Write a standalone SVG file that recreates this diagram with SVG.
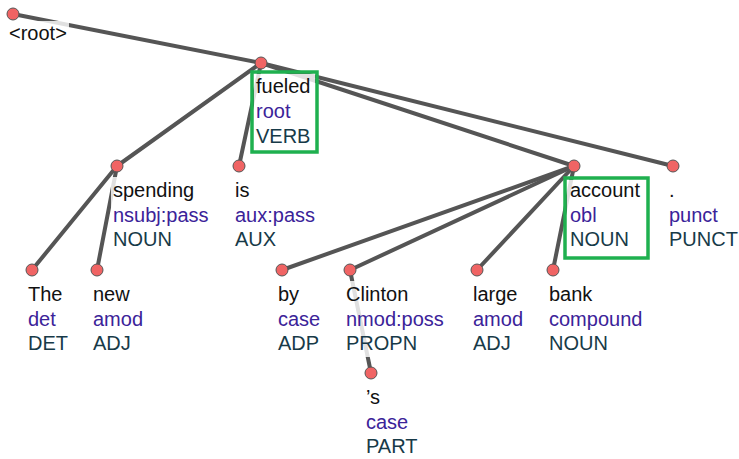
<svg xmlns="http://www.w3.org/2000/svg" width="739" height="459" viewBox="0 0 739 459">
<style>
text{font-family:"Liberation Sans",Arial,sans-serif;font-size:20px}
.w{fill:#111}
.d{fill:#3b2399}
.p{fill:#173a48}
.bg{fill:#fff;fill-opacity:0.82}
.n{fill:#f06464;stroke:#555;stroke-width:1}
.e{stroke:#555;stroke-width:4;stroke-linecap:round;fill:none}
.hl{fill:none;stroke:#1fb04f;stroke-width:3.5}
</style>
<rect width="739" height="459" fill="#fff"/>
<g id="edges">
<line class="e" x1="13" y1="14" x2="261" y2="63"/>
<line class="e" x1="261" y1="63" x2="117" y2="166"/>
<line class="e" x1="261" y1="63" x2="239" y2="166"/>
<line class="e" x1="261" y1="63" x2="574" y2="166"/>
<line class="e" x1="261" y1="63" x2="673" y2="166"/>
<line class="e" x1="117" y1="166" x2="32" y2="270"/>
<line class="e" x1="117" y1="166" x2="97" y2="270"/>
<line class="e" x1="574" y1="166" x2="282" y2="270"/>
<line class="e" x1="574" y1="166" x2="350" y2="270"/>
<line class="e" x1="574" y1="166" x2="477" y2="270"/>
<line class="e" x1="574" y1="166" x2="553" y2="270"/>
<line class="e" x1="350" y1="270" x2="371" y2="373"/>
</g>
<g id="node-root">
<rect class="bg" x="7" y="21" width="62" height="26"/>
<circle class="n" cx="13" cy="14" r="6"/>
<text class="w" x="9" y="40">&lt;root&gt;</text>
</g>
<g id="node-fueled">
<rect class="bg" x="254" y="74" width="61" height="76"/>
<circle class="n" cx="261" cy="63" r="6"/>
<text class="w" x="256" y="93">fueled</text>
<text class="d" x="256" y="118">root</text>
<text class="p" x="256" y="143">VERB</text>
<rect class="hl" x="252" y="72" width="65" height="80"/>
</g>
<g id="node-spending">
<rect class="bg" x="111" y="177" width="100" height="76"/>
<circle class="n" cx="117" cy="166" r="6"/>
<text class="w" x="113" y="197">spending</text>
<text class="d" x="113" y="222">nsubj:pass</text>
<text class="p" x="113" y="246">NOUN</text>
</g>
<g id="node-is">
<rect class="bg" x="233" y="177" width="84" height="76"/>
<circle class="n" cx="239" cy="166" r="6"/>
<text class="w" x="235" y="197">is</text>
<text class="d" x="235" y="222">aux:pass</text>
<text class="p" x="235" y="246">AUX</text>
</g>
<g id="node-account">
<rect class="bg" x="567" y="180" width="79" height="76"/>
<circle class="n" cx="574" cy="166" r="6"/>
<text class="w" x="570" y="197">account</text>
<text class="d" x="570" y="222">obl</text>
<text class="p" x="570" y="246">NOUN</text>
<rect class="hl" x="565" y="178" width="83" height="80"/>
</g>
<g id="node-punct">
<rect class="bg" x="667" y="177" width="72" height="76"/>
<circle class="n" cx="673" cy="166" r="6"/>
<text class="w" x="669" y="197">.</text>
<text class="d" x="669" y="222">punct</text>
<text class="p" x="669" y="246">PUNCT</text>
</g>
<g id="node-the">
<rect class="bg" x="26" y="281" width="48" height="76"/>
<circle class="n" cx="32" cy="270" r="6"/>
<text class="w" x="28" y="301">The</text>
<text class="d" x="28" y="326">det</text>
<text class="p" x="28" y="350">DET</text>
</g>
<g id="node-new">
<rect class="bg" x="91" y="281" width="56" height="76"/>
<circle class="n" cx="97" cy="270" r="6"/>
<text class="w" x="93" y="301">new</text>
<text class="d" x="93" y="326">amod</text>
<text class="p" x="93" y="350">ADJ</text>
</g>
<g id="node-by">
<rect class="bg" x="276" y="281" width="48" height="76"/>
<circle class="n" cx="282" cy="270" r="6"/>
<text class="w" x="278" y="301">by</text>
<text class="d" x="278" y="326">case</text>
<text class="p" x="278" y="350">ADP</text>
</g>
<g id="node-clinton">
<rect class="bg" x="344" y="281" width="102" height="76"/>
<circle class="n" cx="350" cy="270" r="6"/>
<text class="w" x="346" y="301">Clinton</text>
<text class="d" x="346" y="326">nmod:poss</text>
<text class="p" x="346" y="350">PROPN</text>
</g>
<g id="node-s">
<rect class="bg" x="364" y="384" width="56" height="75"/>
<circle class="n" cx="371" cy="373" r="6"/>
<text class="w" x="366" y="404">’s</text>
<text class="d" x="366" y="429">case</text>
<text class="p" x="366" y="453">PART</text>
</g>
<g id="node-large">
<rect class="bg" x="471" y="281" width="56" height="76"/>
<circle class="n" cx="477" cy="270" r="6"/>
<text class="w" x="473" y="301">large</text>
<text class="d" x="473" y="326">amod</text>
<text class="p" x="473" y="350">ADJ</text>
</g>
<g id="node-bank">
<rect class="bg" x="547" y="281" width="97" height="76"/>
<circle class="n" cx="553" cy="270" r="6"/>
<text class="w" x="549" y="301">bank</text>
<text class="d" x="549" y="326">compound</text>
<text class="p" x="549" y="350">NOUN</text>
</g>
</svg>
